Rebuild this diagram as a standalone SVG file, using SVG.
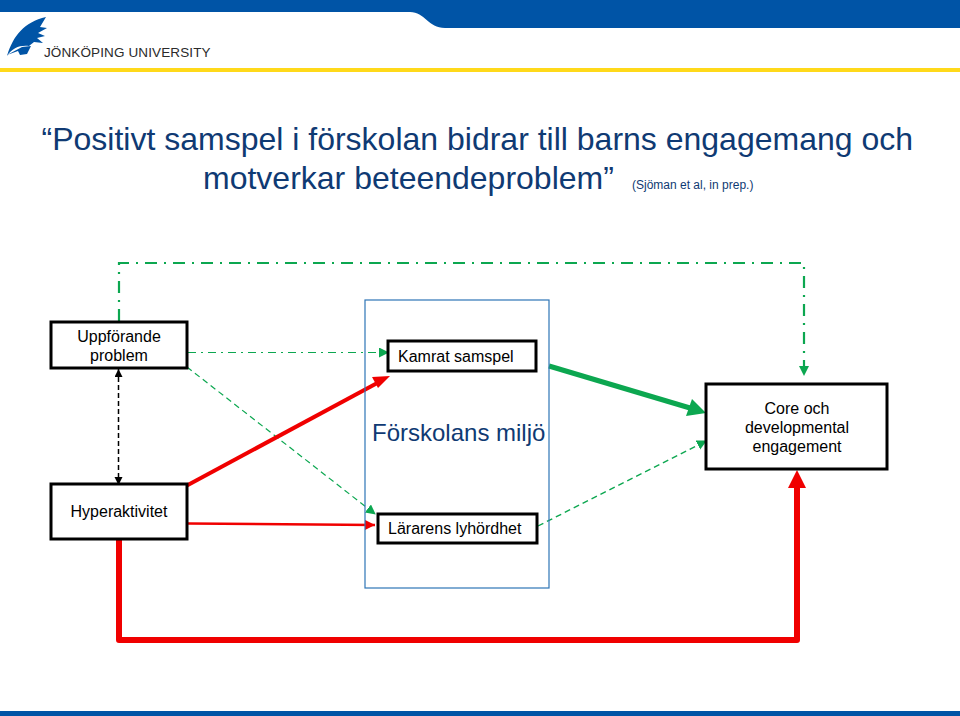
<svg xmlns="http://www.w3.org/2000/svg" width="960" height="716" viewBox="0 0 960 716">
<style>
text{font-family:"Liberation Sans",Arial,sans-serif;fill:#000}
.box{fill:#fff;stroke:#000;stroke-width:3}
.l{font-size:16px;text-anchor:middle}
.t{font-size:32px;fill:#0f3a73}
.c{fill:none}
</style>
<defs>
<marker id="g" markerUnits="userSpaceOnUse" markerWidth="12" markerHeight="12" refX="9" refY="5" orient="auto"><path d="M0 0L10 5L0 10Z" fill="#0ca750"/></marker>
<marker id="r" markerUnits="userSpaceOnUse" markerWidth="14" markerHeight="14" refX="10" refY="5" orient="auto"><path d="M0 0L10 5L0 10Z" fill="#f00000"/></marker>
<marker id="k" markerUnits="userSpaceOnUse" markerWidth="10" markerHeight="10" refX="8" refY="4" orient="auto-start-reverse"><path d="M0 0L8 4L0 8Z" fill="#000"/></marker>
</defs>
<g id="header">
<rect width="960" height="12" fill="#0054a6"/>
<path d="M410 12C425 12 428 28 445 28H960V12Z" fill="#0054a6"/>
<rect y="68" width="960" height="4" fill="#ffd91a"/>
<rect y="711" width="960" height="5" fill="#0054a6"/>
<path d="M7 56C13 36 24 22 46 17L40 27L47 28L38 33L45 36L37 38L43 43L34 42L29 46C20 45 12 48 7 56Z" fill="#0054a6"/>
<path d="M7 55L22 47L31 46L27 54L20 55L18 51Z" fill="#0054a6"/>
<text x="44" y="57" font-size="13.5" letter-spacing=".12" style="fill:#2b2b2b">JÖNKÖPING UNIVERSITY</text>
</g>
<g id="title">
<text class="t" x="41.500" y="150">“Positivt samspel i förskolan bidrar till barns engagemang och</text>
<text class="t" x="203" y="189">motverkar beteendeproblem”</text>
<text x="632" y="189" font-size="12" style="fill:#0f3a73">(Sjöman et al, in prep.)</text>
</g>
<g id="connectors">
<path class="c" d="M119 321V263H804V375" stroke="#0ca750" stroke-width="2.200" stroke-dasharray="12 7 2 7" marker-end="url(#g)"/>
<path class="c" d="M188 352.500H388" stroke="#0ca750" stroke-width="1.200" stroke-dasharray="8 5 2 5" marker-end="url(#g)"/>
<path class="c" d="M187 367L375 514" stroke="#0ca750" stroke-width="1.200" stroke-dasharray="6 4" marker-end="url(#g)"/>
<path class="c" d="M538 526L706 441" stroke="#0ca750" stroke-width="1.400" stroke-dasharray="6 4" marker-end="url(#g)"/>
<path class="c" d="M549 366L690 408" stroke="#0ca750" stroke-width="5"/>
<path d="M706 413L686 416L692 399Z" fill="#0ca750"/>
<path class="c" d="M118.500 369V485" stroke="#000" stroke-width="1.500" stroke-dasharray="5 3" marker-start="url(#k)" marker-end="url(#k)"/>
<path class="c" d="M186 486L381 381" stroke="#f00000" stroke-width="4"/>
<path d="M390 376L378 388L372 377Z" fill="#f00000"/>
<path class="c" d="M188 523.500L375 525" stroke="#f00000" stroke-width="2.500" marker-end="url(#r)"/>
<path class="c" d="M119 540V640H797V485" stroke="#f00000" stroke-width="6" stroke-linejoin="round"/>
<path d="M797 470L806 488H788Z" fill="#f00000"/>
</g>
<g id="miljo">
<rect x="365" y="300" width="184" height="288" fill="none" stroke="#2e75b6" stroke-width="1.200"/>
<text x="372" y="441" font-size="24" style="fill:#0f3a73">Förskolans miljö</text>
</g>
<g id="uppforande"><rect class="box" x="51" y="322" width="136" height="46"/><text class="l" x="119" y="342">Uppförande</text><text class="l" x="119" y="361">problem</text></g>
<g id="hyper"><rect class="box" x="51" y="484" width="136" height="55"/><text class="l" x="119" y="517">Hyperaktivitet</text></g>
<g id="kamrat"><rect class="box" x="388" y="341" width="148" height="30"/><text x="398" y="362" font-size="16">Kamrat samspel</text></g>
<g id="lararens"><rect class="box" x="378" y="514" width="159" height="29"/><text x="388" y="534" font-size="16">Lärarens lyhördhet</text></g>
<g id="core"><rect class="box" x="706" y="384" width="181" height="85"/><text class="l" x="797" y="414">Core och</text><text class="l" x="797" y="433">developmental</text><text class="l" x="797" y="452">engagement</text></g>
</svg>
